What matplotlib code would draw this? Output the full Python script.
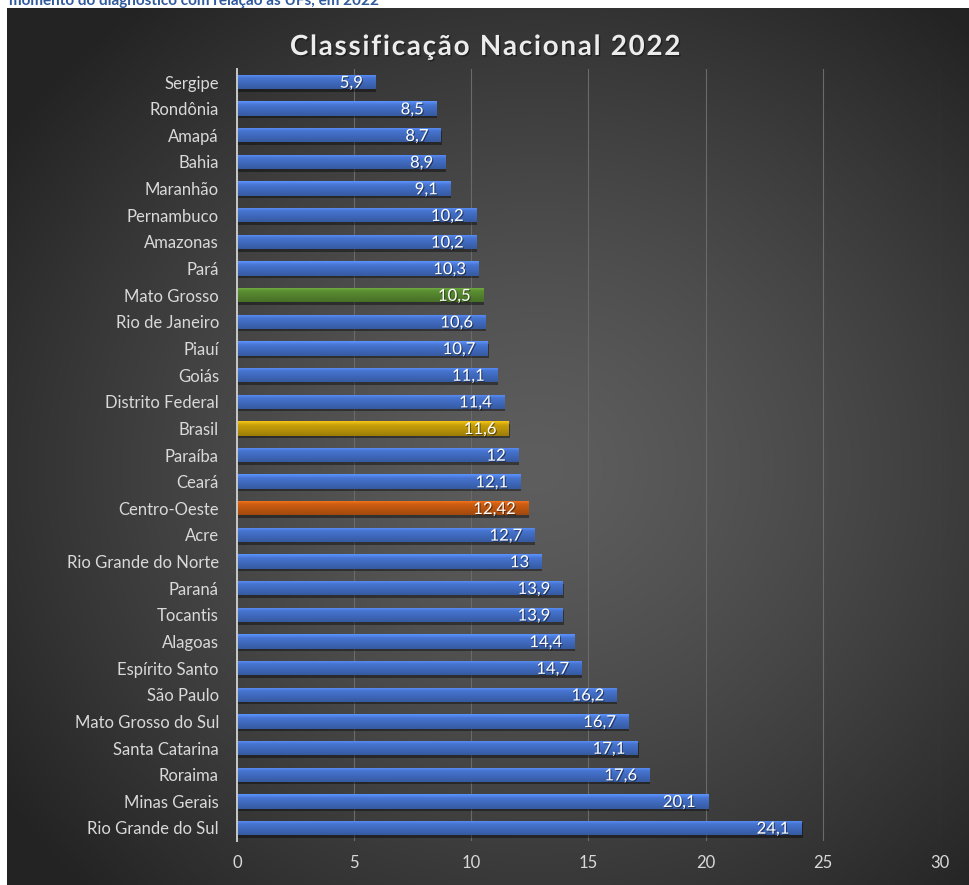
import matplotlib
matplotlib.use("Agg")
import matplotlib.pyplot as plt
import matplotlib.patheffects as pe
import numpy as np
from matplotlib.colors import to_rgb

plt.rcParams["font.family"] = ["Lato", "DejaVu Sans"]

# Data: classification by state, 2022
ufs = ["Sergipe", "Rondônia", "Amapá", "Bahia", "Maranhão", "Pernambuco",
       "Amazonas", "Pará", "Mato Grosso", "Rio de Janeiro", "Piauí", "Goiás",
       "Distrito Federal", "Brasil", "Paraíba", "Ceará", "Centro-Oeste", "Acre",
       "Rio Grande do Norte", "Paraná", "Tocantis", "Alagoas", "Espírito Santo",
       "São Paulo", "Mato Grosso do Sul", "Santa Catarina", "Roraima",
       "Minas Gerais", "Rio Grande do Sul"]
valores = [5.9, 8.5, 8.7, 8.9, 9.1, 10.2, 10.2, 10.3, 10.5, 10.6, 10.7, 11.1,
           11.4, 11.6, 12, 12.1, 12.42, 12.7, 13, 13.9, 13.9, 14.4, 14.7, 16.2,
           16.7, 17.1, 17.6, 20.1, 24.1]
rotulos = ["5,9", "8,5", "8,7", "8,9", "9,1", "10,2", "10,2", "10,3", "10,5",
           "10,6", "10,7", "11,1", "11,4", "11,6", "12", "12,1", "12,42", "12,7",
           "13", "13,9", "13,9", "14,4", "14,7", "16,2", "16,7", "17,1", "17,6",
           "20,1", "24,1"]
xticks = [0, 5, 10, 15, 20, 25, 30]

destaques = {"Mato Grosso": "#5b8f32", "Brasil": "#c9a00a", "Centro-Oeste": "#cf5e12"}
azul = "#4674d0"

titulo = "Classificação Nacional 2022"

W, H = 970, 885
fig = plt.figure(figsize=(W / 100, H / 100), dpi=100)
fig.patch.set_facecolor("white")

# header line, only its lower part shows above the dark panel
ax_top = fig.add_axes([0, 1 - 8 / H, 1, 8 / H])
ax_top.set_axis_off()
ax_top.set_xlim(0, W)
ax_top.set_ylim(8, 0)
ax_top.text(9, 5.5, "momento do diagnóstico com relação às UFs, em 2022",
            fontsize=11, fontweight="bold", color="#2f5a9e", va="baseline",
            ha="left", clip_on=True)

# dark panel with radial gradient
ax_bg = fig.add_axes([7 / W, 0, 1 - 7 / W, 1 - 8 / H])
ax_bg.set_axis_off()
gx, gy = np.meshgrid(np.linspace(-1, 1, 400), np.linspace(-1, 1, 400))
r = np.sqrt((gx - 0.1) ** 2 + (gy - 0.05) ** 2)
r = np.clip(r / 1.35, 0, 1)
c_in, c_out = np.array(to_rgb("#5e5e5e")), np.array(to_rgb("#232323"))
grad = c_in[None, None, :] * (1 - r[..., None] ** 1.3) + c_out[None, None, :] * r[..., None] ** 1.3
ax_bg.imshow(grad, aspect="auto", extent=[0, 1, 0, 1], interpolation="bilinear")

ax = fig.add_axes([237 / W, 1 - 841.3 / H, 703 / W, 772.6 / H])
ax.set_facecolor("none")
pos = np.arange(len(ufs))
cores = [destaques.get(u, azul) for u in ufs]
bars = ax.barh(pos, valores, height=0.54, color=cores, zorder=3,
               path_effects=[pe.SimplePatchShadow(offset=(0.6, -1.8), shadow_rgbFace="black", alpha=0.4),
                             pe.Normal()])

ax.set_xlim(0, 30)
ax.set_ylim(len(ufs) - 0.5, -0.5)

# vertical shading on each bar: lighter top, darker bottom
for b, c in zip(bars, cores):
    base = np.array(to_rgb(c))
    t = np.linspace(0, 1, 32)[:, None]
    top = np.clip(base * 1.18 + 0.04, 0, 1)
    bot = base * 0.78
    col = np.where(t < 0.25, top + (base - top) * (t / 0.25),
                   base + (bot - base) * ((t - 0.25) / 0.75))
    img = ax.imshow(col[:, None, :], aspect="auto", zorder=4,
                    extent=[b.get_x(), b.get_x() + b.get_width(),
                            b.get_y() + b.get_height(), b.get_y()],
                    interpolation="bilinear")
    img.set_clip_path(b)

ax.set_xlim(0, 30)
ax.set_ylim(len(ufs) - 0.5, -0.5)

for b, lab in zip(bars, rotulos):
    ax.annotate(lab, (b.get_width(), b.get_y() + b.get_height() / 2),
                xytext=(-9, -0.5), textcoords="offset points", ha="right",
                va="center", color="white", fontsize=12, zorder=6,
                path_effects=[pe.withSimplePatchShadow(offset=(0.8, -0.8), shadow_rgbFace="black", alpha=0.45)])

ax.set_yticks(pos)
ax.set_yticklabels(ufs)
ax.set_xticks(xticks)
ax.set_xticklabels([str(v) for v in xticks])
ax.tick_params(axis="both", length=0, colors="#d9d9d9", labelsize=12)
ax.tick_params(axis="y", pad=13)
ax.tick_params(axis="x", pad=10)
ax.grid(axis="x", color="#6a6a6a", linewidth=0.8, zorder=1)
for s in ["top", "right", "bottom"]:
    ax.spines[s].set_visible(False)
ax.spines["left"].set_color("#c8c8c8")
ax.spines["left"].set_linewidth(1.4)
ax.spines["left"].set_zorder(5)

# letter-spaced title (hair spaces between characters)
fig.text(0.5, 1 - 47 / H, "\u200a".join(titulo), ha="center", va="center",
         fontsize=20, fontweight="bold", color="#ececec",
         path_effects=[pe.withSimplePatchShadow(offset=(1, -1), shadow_rgbFace="black", alpha=0.4)])

fig.savefig("out.png", dpi=100)
